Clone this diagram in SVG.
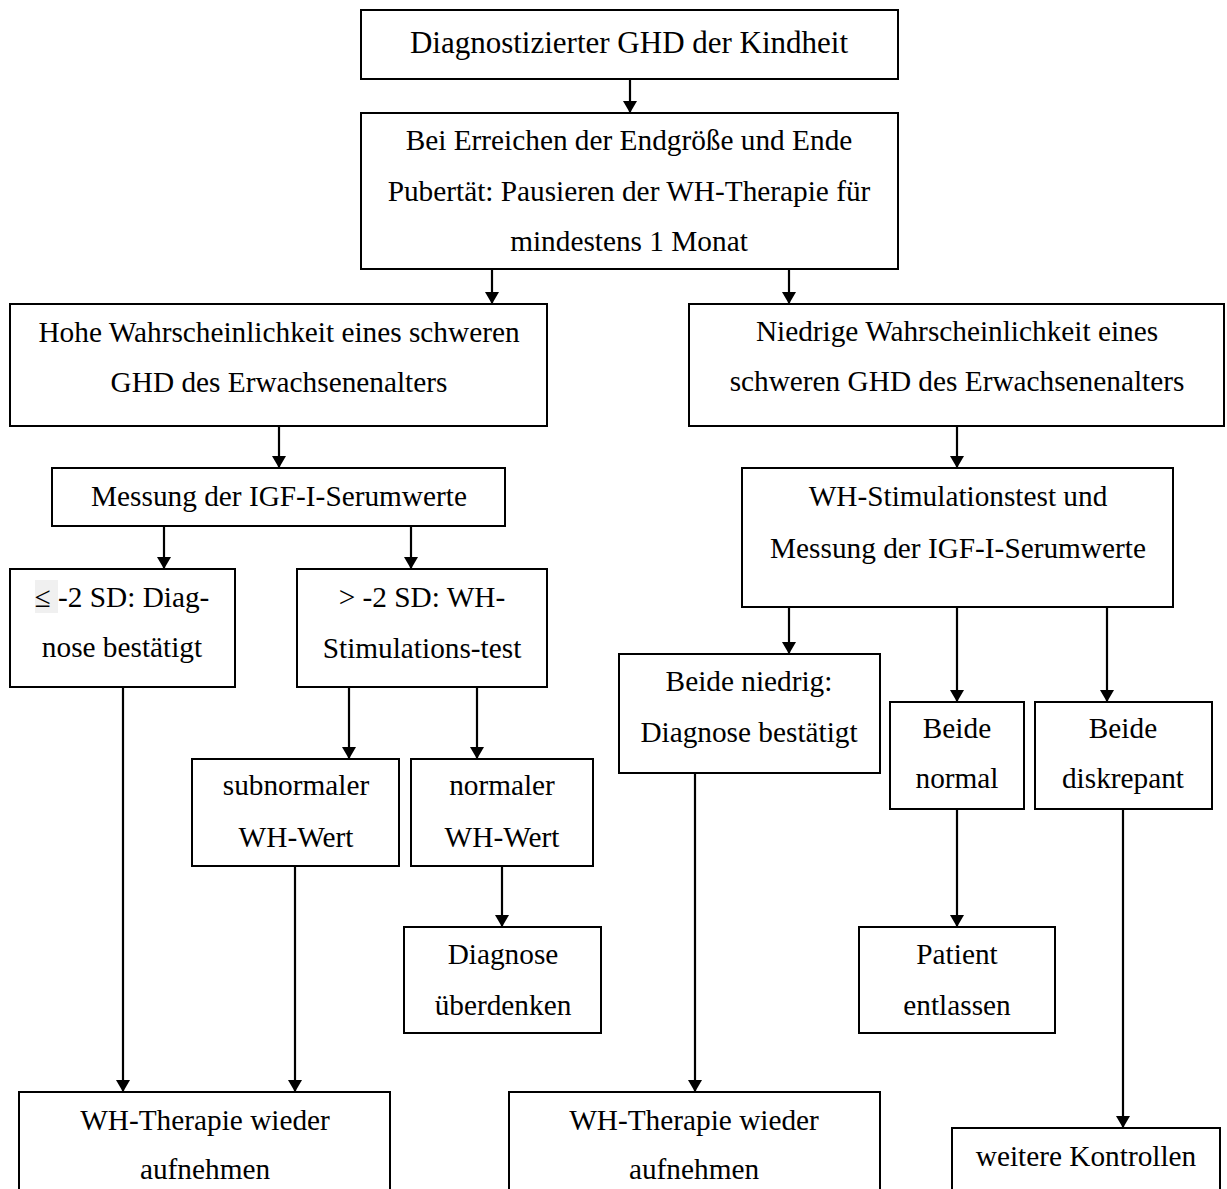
<svg xmlns="http://www.w3.org/2000/svg" width="1227" height="1189" viewBox="0 0 1227 1189">
<style>
.box{fill:#fff;stroke:#000;stroke-width:2}
.t{font-family:"Liberation Serif","Times New Roman",serif;font-size:29.3px;fill:#000;text-anchor:middle}
.big{font-size:31px}
.c{stroke:#000;stroke-width:2.2;fill:none;marker-end:url(#ah)}
</style>
<defs>
<marker id="ah" viewBox="0 0 12 14" refX="12" refY="7" markerWidth="12" markerHeight="14" markerUnits="userSpaceOnUse" orient="auto">
<path d="M0,0 L12,7 L0,14 z" fill="#000"/>
</marker>
</defs>
<rect width="1227" height="1189" fill="#fff"/>
<g id="connectors">
<line class="c" x1="630" y1="79" x2="630" y2="113"/>
<line class="c" x1="492" y1="269" x2="492" y2="304"/>
<line class="c" x1="789" y1="269" x2="789" y2="304"/>
<line class="c" x1="279" y1="426" x2="279" y2="468"/>
<line class="c" x1="957" y1="426" x2="957" y2="468"/>
<line class="c" x1="164" y1="526" x2="164" y2="569"/>
<line class="c" x1="411" y1="526" x2="411" y2="569"/>
<line class="c" x1="349" y1="687" x2="349" y2="759"/>
<line class="c" x1="477" y1="687" x2="477" y2="759"/>
<line class="c" x1="502" y1="866" x2="502" y2="927"/>
<line class="c" x1="123" y1="687" x2="123" y2="1092"/>
<line class="c" x1="295" y1="866" x2="295" y2="1092"/>
<line class="c" x1="789" y1="607" x2="789" y2="654"/>
<line class="c" x1="957" y1="607" x2="957" y2="702"/>
<line class="c" x1="1107" y1="607" x2="1107" y2="702"/>
<line class="c" x1="957" y1="809" x2="957" y2="927"/>
<line class="c" x1="695" y1="773" x2="695" y2="1092"/>
<line class="c" x1="1123" y1="809" x2="1123" y2="1128"/>
</g>
<g id="n1">
<rect class="box" x="361" y="10" width="537" height="69"/>
<text class="t big" x="629" y="53">Diagnostizierter GHD der Kindheit</text>
</g>
<g id="n2">
<rect class="box" x="361" y="113" width="537" height="156"/>
<text class="t" x="629" y="150">Bei Erreichen der Endgröße und Ende</text>
<text class="t" x="629" y="201">Pubertät: Pausieren der WH-Therapie für</text>
<text class="t" x="629" y="251">mindestens 1 Monat</text>
</g>
<g id="n3">
<rect class="box" x="10" y="304" width="537" height="122"/>
<text class="t" x="279" y="342">Hohe Wahrscheinlichkeit eines schweren</text>
<text class="t" x="279" y="392">GHD des Erwachsenenalters</text>
</g>
<g id="n4">
<rect class="box" x="689" y="304" width="535" height="122"/>
<text class="t" x="957" y="341">Niedrige Wahrscheinlichkeit eines</text>
<text class="t" x="957" y="391">schweren GHD des Erwachsenenalters</text>
</g>
<g id="n5">
<rect class="box" x="52" y="468" width="453" height="58"/>
<text class="t" x="279" y="506">Messung der IGF-I-Serumwerte</text>
</g>
<g id="n6">
<rect class="box" x="742" y="468" width="431" height="139"/>
<text class="t" x="958" y="506">WH-Stimulationstest und</text>
<text class="t" x="958" y="558">Messung der IGF-I-Serumwerte</text>
</g>
<g id="n7">
<rect class="box" x="10" y="569" width="225" height="118"/>
<rect x="35" y="580" width="23" height="33" fill="#f0f0f0"/>
<text class="t" x="122" y="607">≤ -2 SD: Diag-</text>
<text class="t" x="122" y="657">nose bestätigt</text>
</g>
<g id="n8">
<rect class="box" x="297" y="569" width="250" height="118"/>
<text class="t" x="422" y="607">&gt; -2 SD: WH-</text>
<text class="t" x="422" y="658">Stimulations-test</text>
</g>
<g id="n9">
<rect class="box" x="192" y="759" width="207" height="107"/>
<text class="t" x="296" y="795">subnormaler</text>
<text class="t" x="296" y="847">WH-Wert</text>
</g>
<g id="n10">
<rect class="box" x="411" y="759" width="182" height="107"/>
<text class="t" x="502" y="795">normaler</text>
<text class="t" x="502" y="847">WH-Wert</text>
</g>
<g id="n11">
<rect class="box" x="404" y="927" width="197" height="106"/>
<text class="t" x="503" y="964">Diagnose</text>
<text class="t" x="503" y="1015">überdenken</text>
</g>
<g id="n12">
<rect class="box" x="19" y="1092" width="371" height="110"/>
<text class="t" x="205" y="1130">WH-Therapie wieder</text>
<text class="t" x="205" y="1179">aufnehmen</text>
</g>
<g id="n13">
<rect class="box" x="619" y="654" width="261" height="119"/>
<text class="t" x="749" y="691">Beide niedrig:</text>
<text class="t" x="749" y="742">Diagnose bestätigt</text>
</g>
<g id="n14">
<rect class="box" x="890" y="702" width="134" height="107"/>
<text class="t" x="957" y="738">Beide</text>
<text class="t" x="957" y="788">normal</text>
</g>
<g id="n15">
<rect class="box" x="1035" y="702" width="177" height="107"/>
<text class="t" x="1123" y="738">Beide</text>
<text class="t" x="1123" y="788">diskrepant</text>
</g>
<g id="n16">
<rect class="box" x="859" y="927" width="196" height="106"/>
<text class="t" x="957" y="964">Patient</text>
<text class="t" x="957" y="1015">entlassen</text>
</g>
<g id="n17">
<rect class="box" x="509" y="1092" width="371" height="110"/>
<text class="t" x="694" y="1130">WH-Therapie wieder</text>
<text class="t" x="694" y="1179">aufnehmen</text>
</g>
<g id="n18">
<rect class="box" x="952" y="1128" width="268" height="74"/>
<text class="t" x="1086" y="1166">weitere Kontrollen</text>
</g>
</svg>
